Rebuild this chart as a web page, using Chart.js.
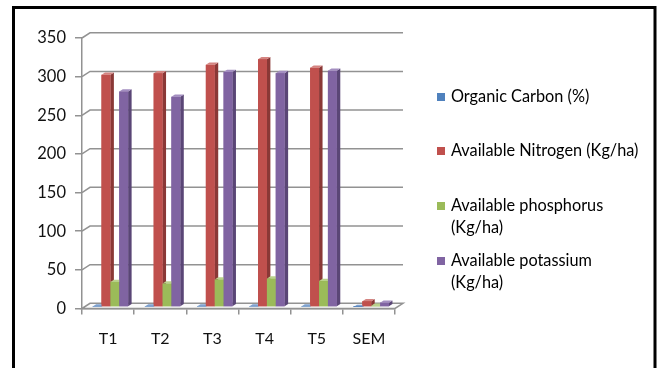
<!DOCTYPE html>
<html>
<head>
<meta charset="utf-8">
<script src="https://cdn.jsdelivr.net/npm/chart.js@4/dist/chart.umd.min.js"></script>
<style>
  html, body { margin: 0; padding: 0; background: #fff; }
  #wrap { position: relative; width: 661px; height: 368px; }
  canvas { display: block; }
</style>
</head>
<body>
<div id="wrap"><canvas id="chart" width="661" height="368"></canvas></div>
<script>
// Soil properties per treatment
const categories = ['T1', 'T2', 'T3', 'T4', 'T5', 'SEM'];
const organicCarbon = [0.52, 0.55, 0.58, 0.60, 0.56, 0.03];
const availableNitrogen = [300.4, 302.5, 313.3, 320.6, 309.5, 7.5];
const availablePhosphorus = [32.4, 30.3, 35.5, 36.7, 33.6, 1.6];
const availablePotassium = [278.8, 272.0, 304.0, 302.6, 305.6, 5.5];
const yMin = 0, yMax = 350, yStep = 50;

const seriesLabels = [
  ['Organic Carbon (%)'],
  ['Available Nitrogen (Kg/ha)'],
  ['Available phosphorus', '(Kg/ha)'],
  ['Available potassium', '(Kg/ha)']
];

// front / side / top shades for the 3-D columns
const palette = [
  { front: '#4F81BD', side: '#385D8A', top: '#7EA1CF' },
  { front: '#C0504D', side: '#8A3836', top: '#D48481' },
  { front: '#9BBB59', side: '#6F8A3E', top: '#BAD28C' },
  { front: '#8064A2', side: '#5A4676', top: '#A38EC0' }
];

// depth of the walls and of the columns (px)
const WALL = { dx: 8, dy: -5.2 };
const BAR_SHIFT = { dx: 2.3, dy: -1.5 };
const BAR_DEPTH = { dx: 3.5, dy: -2.3 };
const GRID = '#929292';
const GRID_W = 1.5;
const FONT = 'Lato, "Open Sans", sans-serif';

const walls = {
  id: 'walls',
  beforeDatasetsDraw(chart) {
    const { ctx, chartArea: a, scales: { y } } = chart;
    ctx.save();
    ctx.strokeStyle = GRID;
    ctx.lineWidth = GRID_W;
    // back-wall gridlines with their side-wall diagonals
    y.ticks.forEach(t => {
      if (t.value === yMin) return;
      const py = y.getPixelForValue(t.value);
      ctx.beginPath();
      ctx.moveTo(a.left, py);
      ctx.lineTo(a.left + WALL.dx, py + WALL.dy);
      ctx.lineTo(a.right + WALL.dx, py + WALL.dy);
      ctx.stroke();
    });
    // floor
    const p0 = y.getPixelForValue(yMin);
    ctx.beginPath();
    ctx.moveTo(a.left, p0);
    ctx.lineTo(a.left + WALL.dx, p0 + WALL.dy);
    ctx.lineTo(a.right + WALL.dx, p0 + WALL.dy);
    ctx.lineTo(a.right, p0);
    ctx.closePath();
    ctx.fillStyle = '#fbfbfb';
    ctx.fill();
    ctx.stroke();
    ctx.restore();

    // columns sit half-way into the depth
    ctx.save();
    ctx.translate(BAR_SHIFT.dx, BAR_SHIFT.dy);
  },
  afterDatasetsDraw(chart) {
    const { ctx } = chart;
    chart.data.datasets.forEach((ds, i) => {
      const meta = chart.getDatasetMeta(i);
      const c = palette[i];
      meta.data.forEach(bar => {
        const { x, y, base, width } = bar.getProps(['x', 'y', 'base', 'width'], true);
        const l = x - width / 2, r = x + width / 2;
        // side face
        ctx.fillStyle = c.side;
        ctx.beginPath();
        ctx.moveTo(r, y);
        ctx.lineTo(r + BAR_DEPTH.dx, y + BAR_DEPTH.dy);
        ctx.lineTo(r + BAR_DEPTH.dx, base + BAR_DEPTH.dy);
        ctx.lineTo(r, base);
        ctx.closePath();
        ctx.fill();
        // top face
        ctx.fillStyle = c.top;
        ctx.beginPath();
        ctx.moveTo(l, y);
        ctx.lineTo(r, y);
        ctx.lineTo(r + BAR_DEPTH.dx, y + BAR_DEPTH.dy);
        ctx.lineTo(l + BAR_DEPTH.dx, y + BAR_DEPTH.dy);
        ctx.closePath();
        ctx.fill();
        // front face
        ctx.fillStyle = c.front;
        ctx.fillRect(l, y, width, base - y);
      });
    });
    ctx.restore();
  }
};

const legendAndFrame = {
  id: 'legendAndFrame',
  afterDraw(chart) {
    const { ctx } = chart;
    ctx.save();
    // legend
    const rows = [[97], [151], [206, 228], [261, 283]];
    ctx.font = '16.3px ' + FONT;
    ctx.textBaseline = 'middle';
    ctx.textAlign = 'left';
    seriesLabels.forEach((lines, i) => {
      ctx.fillStyle = palette[i].front;
      ctx.fillRect(437, rows[i][0] - 4, 8, 8);
      ctx.fillStyle = '#000';
      lines.forEach((txt, k) => ctx.fillText(txt, 451, rows[i][k]));
    });
    // outer frame
    ctx.strokeStyle = '#000';
    ctx.lineWidth = 3;
    ctx.beginPath();
    ctx.moveTo(13.5, 372);
    ctx.lineTo(13.5, 7.5);
    ctx.lineTo(655, 7.5);
    ctx.lineTo(655, 372);
    ctx.stroke();
    ctx.restore();
  }
};

const seriesData = [organicCarbon, availableNitrogen, availablePhosphorus, availablePotassium];

new Chart(document.getElementById('chart'), {
  type: 'bar',
  data: {
    labels: categories,
    datasets: seriesData.map((d, i) => ({
      label: seriesLabels[i].join(' '),
      data: d,
      backgroundColor: palette[i].front,
      borderWidth: 0,
      barPercentage: 1.0,
      categoryPercentage: 0.68,
      clip: false
    }))
  },
  options: {
    responsive: false,
    animation: false,
    devicePixelRatio: 1,
    layout: { padding: { top: 38, right: 266, bottom: 9.5, left: 0 } },
    plugins: { legend: { display: false }, tooltip: { enabled: false } },
    scales: {
      x: {
        grid: { offset: true, drawOnChartArea: false, drawTicks: true, tickLength: 6, color: GRID, lineWidth: GRID_W },
        border: { display: true, color: GRID, width: GRID_W },
        ticks: { color: '#111', font: { family: FONT, size: 16 }, padding: 15 },
        afterFit(s) { s.height = 50; }
      },
      y: {
        min: yMin, max: yMax,
        grid: { drawOnChartArea: false, drawTicks: true, tickLength: 7, color: GRID, lineWidth: GRID_W },
        border: { display: true, color: GRID, width: GRID_W },
        ticks: { stepSize: yStep, color: '#111', font: { family: FONT, size: 16.5 }, padding: 9 },
        afterFit(s) { s.width = 82; }
      }
    }
  },
  plugins: [walls, legendAndFrame]
});
</script>
</body>
</html>
